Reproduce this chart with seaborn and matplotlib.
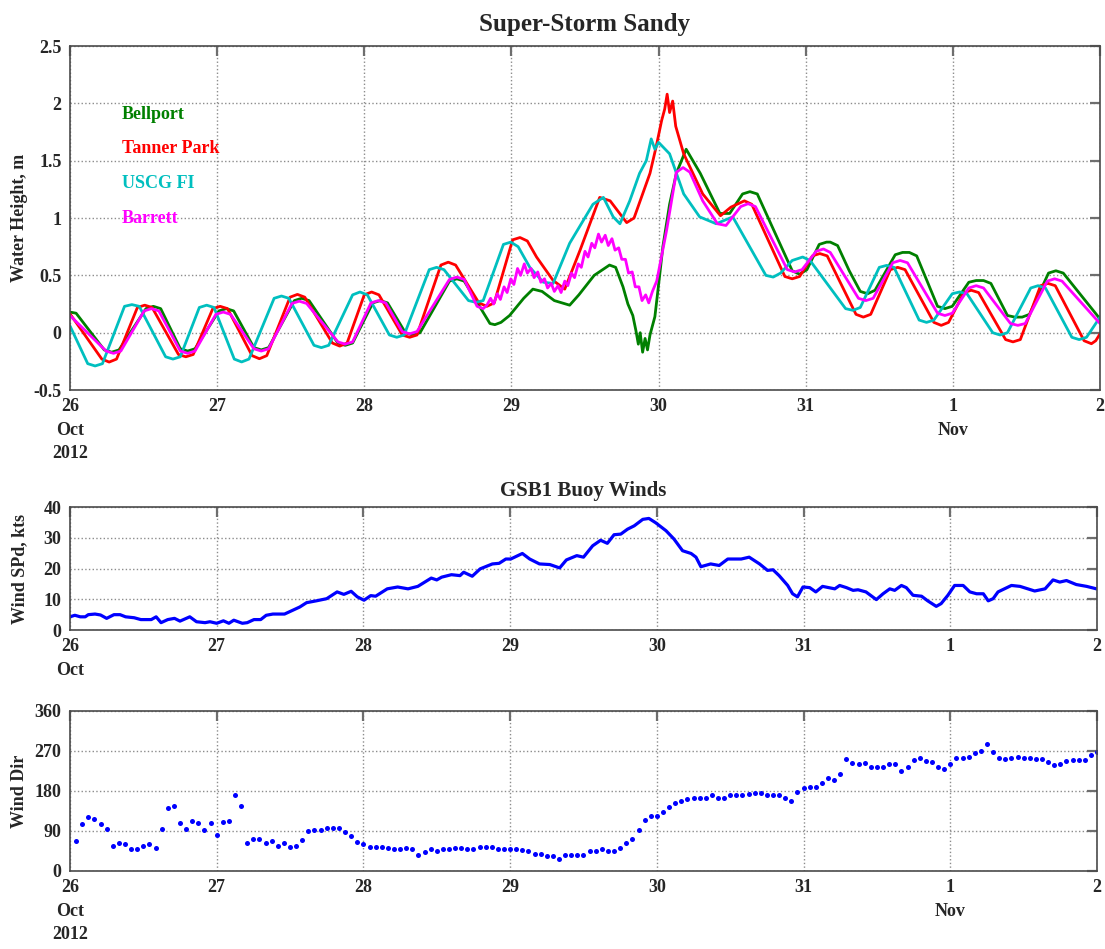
import numpy as np
import pandas as pd
import matplotlib
matplotlib.use("Agg")
import matplotlib.pyplot as plt
import seaborn as sns

# ---------- DATA (hours since 26 Oct 2012 00:00) ----------

bellport_hr = [0, 1.0, 5.6, 6.8, 8.0, 12.4, 13.6, 14.8, 18.0, 19.2, 20.4, 24.3, 25.5, 26.7,
               30.0, 31.2, 32.4, 36.6, 37.8, 39.0, 43.7, 44.9, 46.1, 49.4, 50.6, 51.8,
               54.7, 55.9, 57.1, 61.9, 63.1, 64.3, 68.5, 69.3, 70.3, 71.7, 74.0, 75.5, 77.0,
               79.0, 81.5, 83.0, 85.5, 88.0, 89.0, 90.2, 91.0, 91.8, 92.3, 92.7, 93.0, 93.4,
               93.8, 94.2, 94.6, 95.4, 96.2, 96.7, 97.8, 98.9, 100.5, 102.8, 106.0, 107.6,
               109.7, 110.9, 112.1, 117.8, 119.0, 120.2,
               122.2, 123.4, 124.0, 125.2, 127.1, 128.9, 130.1, 131.3, 134.6, 135.8, 136.9, 138.1,
               141.5, 142.7, 143.9, 146.6, 147.8, 149.0, 150.2, 152.9, 154.1, 155.3, 156.5,
               159.6, 160.8, 162.0, 168]
bellport_m = [0.18, 0.17, -0.15, -0.17, -0.15, 0.21, 0.23, 0.21, -0.14, -0.16, -0.14, 0.19, 0.21, 0.19,
              -0.13, -0.15, -0.13, 0.28, 0.30, 0.28, -0.09, -0.11, -0.09, 0.26, 0.28, 0.26,
              0.0, -0.02, 0.0, 0.45, 0.47, 0.45, 0.08, 0.07, 0.09, 0.15, 0.30, 0.38, 0.36,
              0.28, 0.24, 0.33, 0.50, 0.59, 0.57, 0.40, 0.25, 0.15, 0.02, -0.10, 0.0, -0.17,
              -0.05, -0.15, -0.02, 0.14, 0.51, 0.75, 1.12, 1.39, 1.60, 1.39, 1.04, 1.04,
              1.21, 1.23, 1.21, 0.54, 0.51, 0.55,
              0.77, 0.79, 0.79, 0.76, 0.54, 0.36, 0.34, 0.37, 0.68, 0.70, 0.70, 0.67,
              0.23, 0.21, 0.23, 0.44, 0.455, 0.455, 0.43, 0.15, 0.136, 0.136, 0.16,
              0.52, 0.54, 0.52, 0.12]

tanner_hr = [0, 5.2, 6.4, 7.6, 11.0, 12.2, 13.4, 17.7, 18.9, 20.1, 23.3, 24.5, 25.7,
             29.7, 30.9, 32.1, 35.9, 37.1, 38.3, 42.8, 44.0, 45.2, 48.0, 49.2, 50.4,
             54.2, 55.4, 56.6, 60.5, 61.7, 62.9, 66.7, 68.0, 69.2, 72.2, 73.4, 74.6,
             76.1, 78.8, 80.7, 83.2, 86.4, 88.1, 90.8, 92.0, 94.6, 95.6, 96.5, 97.0, 97.4, 97.8,
             98.3, 98.8, 100.1, 103.2, 106.1, 107.8, 110.0, 111.2, 116.6, 117.8, 119.0,
             121.1, 122.3, 123.5, 128.2, 129.4, 130.6, 133.8, 135.0, 136.2, 140.9, 142.1, 143.3,
             145.8, 147.0, 148.2, 152.6, 153.8, 155.0, 158.3, 159.5, 160.7, 165.4, 166.6, 167.3, 168]
tanner_m = [0.165, -0.23, -0.256, -0.23, 0.22, 0.24, 0.22, -0.19, -0.21, -0.19, 0.21, 0.23, 0.21,
            -0.20, -0.227, -0.20, 0.31, 0.334, 0.31, -0.09, -0.117, -0.09, 0.33, 0.355, 0.33,
            -0.02, -0.04, -0.02, 0.59, 0.615, 0.59, 0.26, 0.23, 0.26, 0.81, 0.83, 0.80,
            0.66, 0.456, 0.38, 0.72, 1.18, 1.15, 0.96, 1.0, 1.39, 1.62, 1.85, 1.95, 2.08, 1.92,
            2.02, 1.80, 1.56, 1.21, 1.02, 1.095, 1.15, 1.12, 0.49, 0.47, 0.49,
            0.67, 0.69, 0.67, 0.16, 0.136, 0.16, 0.55, 0.57, 0.55, 0.09, 0.064, 0.09,
            0.35, 0.37, 0.35, -0.06, -0.08, -0.06, 0.41, 0.43, 0.41, -0.07, -0.096, -0.07, -0.01]

uscg_hr = [0, 2.9, 4.1, 5.3, 8.9, 10.1, 11.3, 15.6, 16.8, 18.0, 21.1, 22.3, 23.5,
           26.8, 28.0, 29.2, 33.3, 34.5, 35.7, 39.8, 41.0, 42.2, 46.1, 47.3, 48.5,
           52.1, 53.3, 54.5, 58.6, 59.8, 61.0, 65.0, 66.2, 67.4, 70.7, 71.9, 73.1,
           75.0, 77.2, 78.8, 81.5, 85.3, 87.0, 88.6, 89.7, 91.3, 92.9, 94.0,
           94.8, 95.4, 96.0, 97.8, 100.1, 102.7, 105.4, 108.1, 113.5, 114.7, 115.9,
           117.8, 119.5, 120.7, 126.5, 127.7, 128.9, 132.0, 133.2, 134.4, 138.5, 139.7, 140.9,
           143.9, 145.1, 146.3, 150.5, 151.7, 152.9, 156.7, 157.9, 159.1, 163.4, 164.6, 165.8, 168]
uscg_m = [0.06, -0.27, -0.29, -0.27, 0.23, 0.245, 0.23, -0.21, -0.23, -0.21, 0.22, 0.24, 0.22,
          -0.23, -0.255, -0.23, 0.30, 0.32, 0.30, -0.11, -0.13, -0.11, 0.33, 0.355, 0.33,
          -0.02, -0.04, -0.02, 0.55, 0.57, 0.55, 0.28, 0.265, 0.28, 0.77, 0.79, 0.75,
          0.57, 0.44, 0.43, 0.78, 1.12, 1.18, 1.01, 0.95, 1.15, 1.39, 1.50,
          1.69, 1.60, 1.66, 1.56, 1.21, 1.01, 0.95, 1.01, 0.50, 0.485, 0.52,
          0.63, 0.66, 0.63, 0.21, 0.195, 0.22, 0.57, 0.587, 0.57, 0.11, 0.09, 0.11,
          0.34, 0.355, 0.34, 0.0, -0.02, 0.0, 0.39, 0.41, 0.39, -0.04, -0.06, -0.04, 0.136]

barrett_hr = [0, 5.9, 7.1, 8.3, 12.1, 13.3, 14.5, 18.0, 19.2, 20.4, 23.8, 25.0, 26.2,
              30.0, 31.2, 32.4, 36.2, 37.4, 38.6, 43.7, 44.9, 46.1, 49.1, 50.3, 51.5,
              54.2, 55.4, 56.6, 61.9, 63.1, 64.3, 66.4, 67.4,
              68.0, 68.6, 69.1, 69.7, 70.2, 70.8, 71.3, 71.9, 72.4, 73.0, 73.5, 74.1, 74.6,
              75.2, 75.7, 76.3, 76.8, 77.4, 77.9, 78.5, 79.0, 79.6, 80.1, 80.7, 81.2, 81.8,
              82.3, 82.9, 83.4, 84.0, 84.5, 85.1, 85.6, 86.2, 86.7, 87.3, 87.8, 88.4, 88.9,
              89.5, 90.0, 90.6, 91.1, 91.7, 92.2, 92.8, 93.3, 93.9, 94.4, 95.0, 95.7,
              97.3, 98.9, 100.0, 101.1, 103.2, 105.6, 107.0, 109.4, 110.6, 111.8, 117.0, 118.2, 119.4,
              121.7, 122.9, 124.0, 128.6, 129.8, 131.0, 134.2, 135.4, 136.6, 141.5, 142.7, 143.9,
              146.6, 147.8, 149.0, 153.4, 154.6, 155.8, 159.4, 160.6, 161.8, 168]
barrett_m = [0.15, -0.16, -0.18, -0.16, 0.19, 0.21, 0.19, -0.16, -0.18, -0.16, 0.16, 0.18, 0.16,
             -0.14, -0.16, -0.14, 0.255, 0.275, 0.255, -0.08, -0.10, -0.08, 0.26, 0.28, 0.26,
             0.01, -0.01, 0.01, 0.465, 0.485, 0.465, 0.23, 0.21,
             0.24, 0.30, 0.25, 0.34, 0.29, 0.40, 0.35, 0.47, 0.42, 0.56, 0.50, 0.60, 0.52,
             0.56, 0.48, 0.53, 0.44, 0.47, 0.39, 0.43, 0.36, 0.41, 0.35, 0.45, 0.41, 0.52,
             0.48, 0.60, 0.57, 0.71, 0.66, 0.78, 0.74, 0.86, 0.79, 0.85, 0.76, 0.82, 0.72,
             0.74, 0.64, 0.64, 0.52, 0.53, 0.40, 0.40, 0.28, 0.33, 0.26, 0.36, 0.45,
             0.89, 1.40, 1.44, 1.40, 1.15, 0.95, 0.935, 1.10, 1.125, 1.10, 0.55, 0.53, 0.55,
             0.71, 0.73, 0.70, 0.30, 0.28, 0.30, 0.61, 0.63, 0.61, 0.17, 0.15, 0.17,
             0.39, 0.41, 0.39, 0.08, 0.064, 0.08, 0.45, 0.47, 0.45, 0.08]

wspd_hr = [0, 0.8, 1.7, 2.5, 3.0, 4.1, 5.0, 6.0, 7.2, 8.2, 9.1, 10.5, 11.6, 13.3, 14.1, 14.9,
           16.0, 17.1, 18.0, 19.6, 20.7, 22.1, 22.9, 24.0, 25.1, 26.0, 26.8, 28.2, 29.0, 30.1,
           31.2, 32.1, 33.2, 35.1, 36.5, 37.6, 38.7, 40.3, 42.0, 43.7, 44.8, 46.0, 47.0, 48.1,
           49.2, 50.0, 51.9, 53.6, 55.3, 56.9, 59.1, 60.0, 60.8, 62.4, 63.8, 64.4, 65.8, 67.1,
           69.1, 70.2, 71.3, 72.1, 74.0, 75.2, 76.8, 78.5, 80.1, 81.2, 82.9, 84.0, 85.5, 86.8,
           87.9, 89.0, 90.1, 91.2, 92.3, 93.7, 94.7, 95.8, 97.5, 98.8, 100.2, 101.6, 102.4,
           103.2, 104.8, 106.2, 107.6, 109.8, 111.1, 112.8, 114.1, 115.0, 116.0, 117.4, 118.2,
           119.0, 119.9, 121.0, 122.0, 123.1, 125.1, 125.9, 127.0, 128.1, 128.9, 130.2, 131.9,
           133.0, 134.1, 134.9, 136.0, 136.8, 137.9, 139.3, 140.3, 141.7, 142.5, 143.6, 144.7,
           146.1, 147.2, 148.3, 149.4, 150.2, 151.0, 151.8, 154.0, 155.4, 157.8, 159.5, 160.8,
           161.9, 163.0, 164.6, 166.3, 167.9]
wspd_kts = [4.3, 4.8, 4.3, 4.3, 5.0, 5.2, 4.9, 3.8, 5.0, 5.0, 4.3, 4.0, 3.4, 3.4, 4.3, 2.4,
            3.4, 3.8, 2.9, 4.3, 2.7, 2.4, 2.7, 2.2, 3.0, 2.2, 3.2, 2.2, 2.4, 3.4,
            3.4, 4.8, 5.2, 5.2, 6.5, 7.5, 8.9, 9.5, 10.2, 12.4, 11.6, 12.6, 10.8, 9.7,
            11.2, 11.0, 13.4, 14.0, 13.4, 14.2, 16.9, 16.3, 17.2, 18.0, 17.7, 18.8, 17.5, 19.9,
            21.5, 21.7, 23.1, 23.1, 24.9, 23.1, 21.5, 21.3, 20.2, 22.8, 24.2, 23.7, 27.4, 29.2,
            28.2, 31.0, 31.2, 32.8, 33.9, 36.0, 36.3, 34.9, 32.3, 29.6, 25.8, 24.9, 23.7,
            20.6, 21.5, 21.0, 23.1, 23.1, 23.7, 21.5, 19.4, 19.6, 17.7, 14.5, 11.8,
            10.8, 14.0, 13.8, 12.4, 14.2, 13.4, 14.5, 13.8, 12.9, 13.1, 12.4, 9.9,
            11.8, 13.4, 12.9, 14.5, 13.8, 11.3, 11.0, 9.5, 7.7, 8.6, 11.3, 14.5,
            14.5, 12.4, 11.8, 11.8, 9.5, 10.2, 12.4, 14.5, 14.2, 12.7, 13.4, 16.3,
            15.6, 16.1, 14.8, 14.2, 13.4]

# hourly wind direction, hours 1..168
wdir_deg = [67, 106, 121, 116, 106, 95, 57, 64, 61, 49, 49, 57, 61, 52, 95, 142, 147, 109, 95, 113,
            109, 93, 107, 82, 111, 113, 172, 147, 64, 73, 73, 63, 67, 57, 63, 55, 57, 70, 90, 92,
            92, 97, 97, 96, 88, 78, 65, 61, 55, 55, 55, 52, 49, 49, 52, 49, 37, 43, 50, 44,
            50, 50, 52, 52, 50, 50, 55, 55, 55, 50, 50, 50, 50, 48, 45, 38, 38, 33, 33, 27,
            35, 35, 35, 37, 45, 46, 49, 45, 46, 52, 63, 73, 93, 114, 123, 124, 133, 145, 153, 157,
            163, 165, 165, 165, 170, 165, 165, 170, 172, 172, 174, 175, 175, 172, 170, 170, 165, 157, 177, 186,
            190, 188, 198, 210, 204, 219, 253, 243, 241, 243, 233, 233, 235, 241, 241, 226, 234, 250, 254, 247,
            245, 234, 229, 240, 254, 255, 256, 265, 271, 286, 267, 254, 253, 254, 257, 254, 254, 251, 251, 245,
            238, 241, 248, 249, 250, 250, 261, 268]
wdir_hr = list(range(1, len(wdir_deg) + 1))

station_names = ["Bellport", "Tanner Park", "USCG FI", "Barrett"]
station_colors = ["#008000", "#ff0000", "#00bfbf", "#ff00ff"]
label_heights = [1.90, 1.61, 1.30, 1.00]

day_hours = [0, 24, 48, 72, 96, 120, 144, 168]
labels_top = ["26\nOct\n2012", "27", "28", "29", "30", "31", "1\nNov", "2"]
labels_mid = ["26\nOct", "27", "28", "29", "30", "31", "1", "2"]

# ---------- STYLE ----------

sns.set_style("white")
plt.rcParams['font.family'] = ['Liberation Serif', 'DejaVu Serif']
plt.rcParams['font.weight'] = 'bold'
plt.rcParams['axes.labelweight'] = 'bold'
plt.rcParams['axes.titleweight'] = 'bold'


def style_axis(ax, yticks, ylabels, xlabels, ylabel):
    ax.set_xlim(0, 168)
    ax.set_xticks(day_hours)
    ax.set_xticklabels(xlabels, linespacing=1.5)
    ax.set_ylim(yticks[0], yticks[-1])
    ax.set_yticks(yticks)
    ax.set_yticklabels(ylabels)
    ax.set_axisbelow(True)
    ax.grid(True, linestyle=':', color='#8c8c8c', linewidth=1.0)
    ax.tick_params(direction='in', top=True, right=True, length=7, width=1.6,
                   color='#6e6e6e', labelsize=13, pad=6)
    for s in ax.spines.values():
        s.set_color('#4a4a4a')
        s.set_linewidth(1.2)
    ax.set_xlabel("")
    ax.set_ylabel(ylabel, fontsize=13)
    ax.yaxis.set_label_coords(-0.041, 0.5)


fig = plt.figure(figsize=(11.05, 9.49), dpi=100)
ax1 = fig.add_axes([0.0633, 0.589, 0.9322, 0.3625])
ax2 = fig.add_axes([0.0633, 0.3361, 0.9295, 0.1296])
ax3 = fig.add_axes([0.0633, 0.0822, 0.9295, 0.1686])

# ---------- WATER HEIGHT ----------

series = [(bellport_hr, bellport_m), (tanner_hr, tanner_m), (uscg_hr, uscg_m), (barrett_hr, barrett_m)]
for (hr, m), name, col, yl in zip(series, station_names, station_colors, label_heights):
    df = pd.DataFrame({'hour': hr, 'height': m})
    sns.lineplot(data=df, x='hour', y='height', color=col, linewidth=2.0,
                 estimator=None, sort=False, ax=ax1)
    ax1.text(8.5, yl, name, color=col, fontsize=13, va='center', ha='left')

style_axis(ax1, [-0.5, 0, 0.5, 1, 1.5, 2, 2.5],
           ["-0.5", "0", "0.5", "1", "1.5", "2", "2.5"], labels_top, "Water Height, m")
ax1.set_title("Super-Storm Sandy", fontsize=18, pad=11)

# ---------- WIND SPEED ----------

df_spd = pd.DataFrame({'hour': wspd_hr, 'kts': wspd_kts})
sns.lineplot(data=df_spd, x='hour', y='kts', color='#0000ff', linewidth=2.3,
             estimator=None, sort=False, ax=ax2)
style_axis(ax2, [0, 10, 20, 30, 40], ["0", "10", "20", "30", "40"], labels_mid, "Wind SPd, kts")
ax2.set_title("GSB1 Buoy Winds", fontsize=15, pad=8)

# ---------- WIND DIRECTION ----------

df_dir = pd.DataFrame({'hour': wdir_hr, 'deg': wdir_deg})
sns.scatterplot(data=df_dir, x='hour', y='deg', color='#0000ff', s=13, linewidth=0, ax=ax3)
style_axis(ax3, [0, 90, 180, 270, 360], ["0", "90", "180", "270", "360"], labels_top, "Wind Dir")

fig.savefig("out.png", dpi=100)
